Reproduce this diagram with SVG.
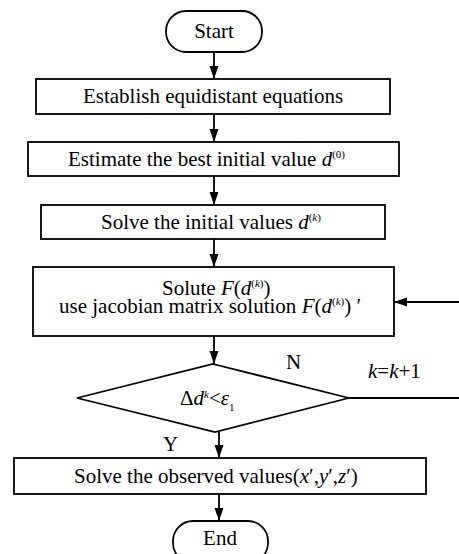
<svg xmlns="http://www.w3.org/2000/svg" width="459" height="554" viewBox="0 0 459 554">
<defs>
<marker id="ah" markerWidth="13" markerHeight="19" refX="19" refY="6.5" viewBox="0 0 19 13" orient="auto" markerUnits="userSpaceOnUse">
<path d="M0,0 L19,6.5 L0,13 Z" fill="#000"/>
</marker>
<style>
.b{fill:#fff;stroke:#000;stroke-width:1.8}
.c{fill:none;stroke:#000;stroke-width:1.8}
text{font-family:"Liberation Serif","Times New Roman",serif;font-size:21px;fill:#000}
.i{font-style:italic}
.s{font-size:11px}
</style>
</defs>
<rect width="459" height="554" fill="#fff"/>
<g id="connectors">
<line class="c" x1="214" y1="52" x2="214" y2="79" marker-end="url(#ah)"/>
<line class="c" x1="214" y1="114" x2="214" y2="142" marker-end="url(#ah)"/>
<line class="c" x1="214" y1="176" x2="214" y2="205" marker-end="url(#ah)"/>
<line class="c" x1="214" y1="239" x2="214" y2="267" marker-end="url(#ah)"/>
<line class="c" x1="459" y1="302" x2="394" y2="302" marker-end="url(#ah)"/>
<line class="c" x1="214" y1="336" x2="214" y2="364" marker-end="url(#ah)"/>
<line class="c" x1="349" y1="398" x2="459" y2="398"/>
<line class="c" x1="219" y1="432" x2="219" y2="458" marker-end="url(#ah)"/>
<line class="c" x1="219" y1="494" x2="219" y2="521" marker-end="url(#ah)"/>
<text x="286" y="369">N</text>
<text x="368" y="378"><tspan class="i">k</tspan>=<tspan class="i">k</tspan>+1</text>
<text x="163" y="451">Y</text>
</g>
<g id="start">
<rect class="b" x="166" y="11" width="96" height="41" rx="20"/>
<text x="214" y="38" text-anchor="middle">Start</text>
</g>
<g id="establish">
<rect class="b" x="36" y="79" width="354" height="35"/>
<text x="213" y="103" text-anchor="middle">Establish equidistant equations</text>
</g>
<g id="estimate">
<rect class="b" x="28" y="142" width="371" height="34"/>
<text x="68" y="166">Estimate the best initial value <tspan class="i">d</tspan><tspan class="s" dy="-8">(0)</tspan></text>
</g>
<g id="solve-initial">
<rect class="b" x="41" y="205" width="344" height="34"/>
<text x="101" y="229">Solve the initial values <tspan class="i">d</tspan><tspan class="s" dy="-8">(<tspan class="i">k</tspan>)</tspan></text>
</g>
<g id="solute">
<rect class="b" x="33" y="267" width="361" height="69"/>
<text x="162" y="295">Solute <tspan class="i">F</tspan>(<tspan class="i">d</tspan><tspan class="s" dy="-8">(<tspan class="i">k</tspan>)</tspan><tspan dy="8">)</tspan></text>
<text x="59" y="313">use jacobian matrix solution <tspan class="i">F</tspan>(<tspan class="i">d</tspan><tspan class="s" dy="-8">(<tspan class="i">k</tspan>)</tspan><tspan dy="8">) ′</tspan></text>
</g>
<g id="decision">
<polygon class="b" points="213,364 349,398 215,432 77,398"/>
<text x="180" y="405">Δ<tspan class="i">d</tspan><tspan class="s i" dy="-7">k</tspan><tspan dy="7">&lt;</tspan><tspan class="i">ε</tspan><tspan class="s" dy="6">1</tspan></text>
</g>
<g id="solve-observed">
<rect class="b" x="14" y="458" width="412" height="36"/>
<text x="74" y="483">Solve the observed values(<tspan class="i">x</tspan>′,<tspan class="i">y</tspan>′,<tspan class="i">z</tspan>′)</text>
</g>
<g id="end">
<rect class="b" x="173" y="521" width="95" height="42" rx="20"/>
<text x="220" y="545" text-anchor="middle">End</text>
</g>
</svg>
